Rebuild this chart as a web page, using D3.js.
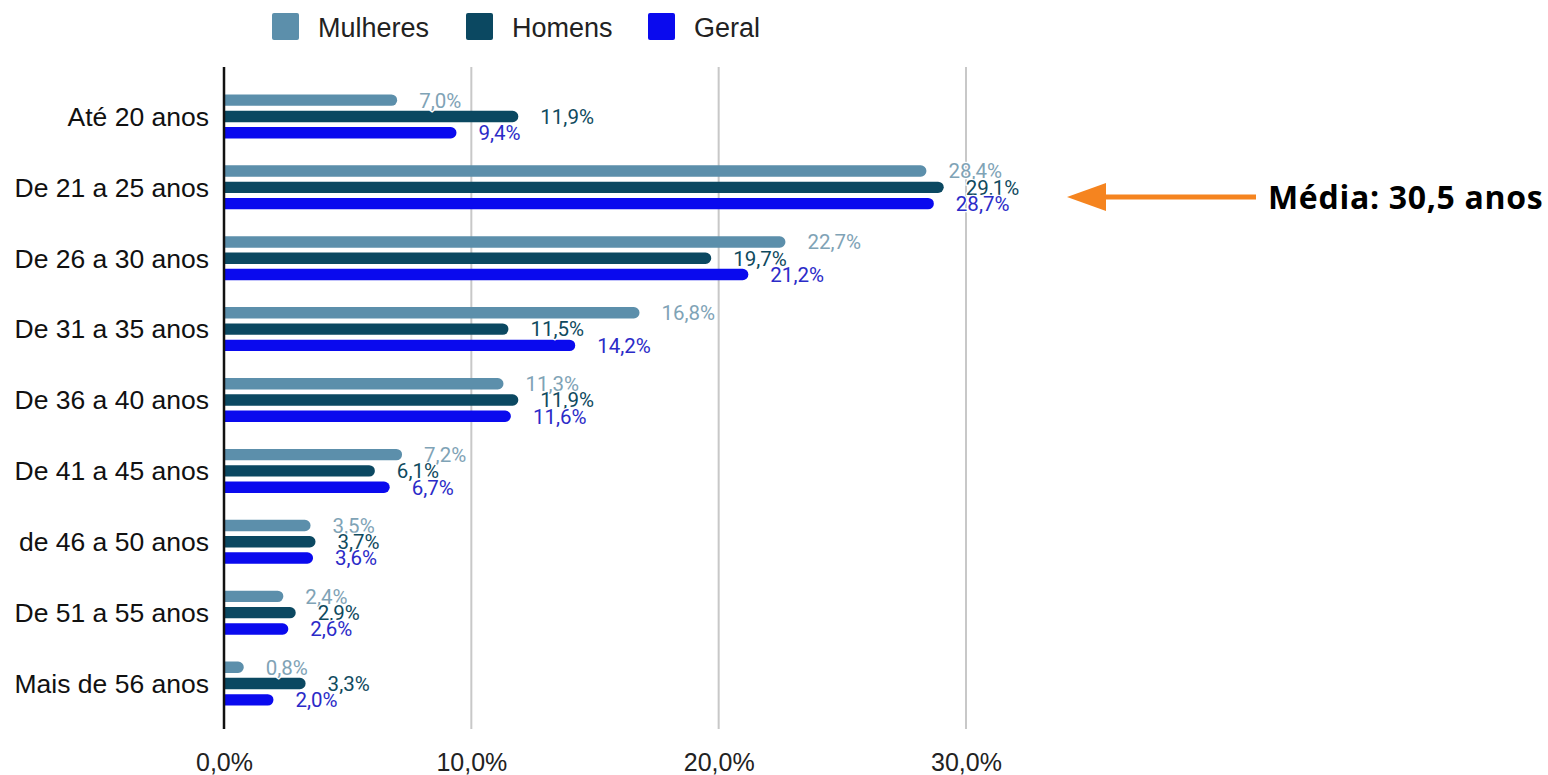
<!DOCTYPE html>
<html>
<head>
<meta charset="utf-8">
<script src="https://cdn.jsdelivr.net/npm/d3@7"></script>
<style>
  html, body { margin: 0; padding: 0; background: #fff; }
  svg { display: block; }
</style>
</head>
<body>
<svg id="chart" width="1548" height="775"></svg>
<script>
// Faixa etária por sexo (% do total)
const categories = [
  "Até 20 anos", "De 21 a 25 anos", "De 26 a 30 anos", "De 31 a 35 anos",
  "De 36 a 40 anos", "De 41 a 45 anos", "de 46 a 50 anos", "De 51 a 55 anos",
  "Mais de 56 anos"
];
const seriesNames = ["Mulheres", "Homens", "Geral"];
const mulheres = [7.0, 28.4, 22.7, 16.8, 11.3, 7.2, 3.5, 2.4, 0.8];
const homens   = [11.9, 29.1, 19.7, 11.5, 11.9, 6.1, 3.7, 2.9, 3.3];
const geral    = [9.4, 28.7, 21.2, 14.2, 11.6, 6.7, 3.6, 2.6, 2.0];
const xTicks = [0, 10, 20, 30];
const annotation = "Média: 30,5 anos";

const seriesValues = [mulheres, homens, geral];
const barColors = ["#5c8fab", "#0b4861", "#0a0aee"];
const labelColors = ["#7fa3b6", "#0f4a5e", "#2b2bc8"];

const fmt = v => d3.format(".1f")(v).replace(".", ",") + "%";

const svg = d3.select("#chart");

const x = d3.scaleLinear().domain([0, 30]).range([224, 966]);
const y = d3.scaleBand().domain(categories).range([81, 719]).padding(0);
const sub = d3.scaleBand().domain(seriesNames).range([-22, 22]).paddingInner(0.3).paddingOuter(0);

const axisTop = 67, axisBottom = 729;

// vertical gridlines
svg.append("g").selectAll("line")
  .data(xTicks.filter(t => t > 0))
  .join("line")
  .attr("x1", d => x(d)).attr("x2", d => x(d))
  .attr("y1", axisTop).attr("y2", axisBottom)
  .attr("stroke", "#c8c8c8").attr("stroke-width", 2);

// bottom tick labels
const xAxis = d3.axisBottom(x).tickValues(xTicks).tickSize(0).tickPadding(0).tickFormat(fmt);
const gx = svg.append("g").attr("transform", `translate(0, 771)`).call(xAxis);
gx.select(".domain").remove();
gx.selectAll("text")
  .attr("dy", 0)
  .attr("font-family", "'Liberation Sans', Arial, sans-serif")
  .attr("font-size", 25).attr("fill", "#222");

// category labels
const yAxis = d3.axisLeft(y).tickSize(0).tickPadding(0);
const gy = svg.append("g").attr("transform", `translate(209, 0)`).call(yAxis);
gy.select(".domain").remove();
gy.selectAll("text")
  .attr("dy", "0.35em")
  .attr("font-family", "'Liberation Sans', Arial, sans-serif")
  .attr("font-size", 26.5).attr("fill", "#111");

// bars with rounded right ends
const barH = sub.bandwidth();
const r = barH / 2;
const barPath = (x0, x1, yTop) => {
  const w = Math.max(x1 - x0, r);
  return `M${x0},${yTop}H${x0 + w - r}A${r},${r} 0 0 1 ${x0 + w - r},${yTop + barH}H${x0}Z`;
};

seriesNames.forEach((name, si) => {
  const vals = seriesValues[si];
  const g = svg.append("g");
  g.selectAll("path")
    .data(vals)
    .join("path")
    .attr("d", (v, i) => {
      const cy = y(categories[i]) + y.bandwidth() / 2;
      return barPath(x(0), x(v), cy + sub(name));
    })
    .attr("fill", barColors[si]);
});

// value labels
seriesNames.forEach((name, si) => {
  const vals = seriesValues[si];
  svg.append("g").selectAll("text")
    .data(vals)
    .join("text")
    .attr("x", v => x(v) + 22)
    .attr("y", (v, i) => y(categories[i]) + y.bandwidth() / 2 + sub(name) + barH / 2)
    .attr("dy", "0.36em")
    .attr("font-family", "Roboto, 'Liberation Sans', sans-serif")
    .attr("font-size", 20.5)
    .attr("fill", labelColors[si])
    .attr("stroke", "#fff").attr("stroke-width", 2.5)
    .attr("paint-order", "stroke")
    .text(v => fmt(v));
});

// zero axis line
svg.append("line")
  .attr("x1", x(0)).attr("x2", x(0))
  .attr("y1", axisTop).attr("y2", axisBottom)
  .attr("stroke", "#111").attr("stroke-width", 2.5);

// legend
const legend = svg.append("g");
const legendX = [272, 466, 648];
seriesNames.forEach((name, si) => {
  legend.append("rect")
    .attr("x", legendX[si]).attr("y", 13)
    .attr("width", 27).attr("height", 27).attr("rx", 2)
    .attr("fill", barColors[si]);
  legend.append("text")
    .attr("x", legendX[si] + 46).attr("y", 27)
    .attr("dy", "0.36em")
    .attr("font-family", "'Liberation Sans', Arial, sans-serif")
    .attr("font-size", 27).attr("fill", "#222")
    .text(name);
});

// mean age annotation
const ann = svg.append("g");
ann.append("line")
  .attr("x1", 1100).attr("x2", 1256)
  .attr("y1", 197).attr("y2", 197)
  .attr("stroke", "#f5841f").attr("stroke-width", 5);
ann.append("path")
  .attr("d", "M1067,197L1106,183L1106,211Z")
  .attr("fill", "#f5841f");
ann.append("text")
  .attr("x", 1268).attr("y", 197)
  .attr("dy", "0.36em")
  .attr("font-family", "'Open Sans', Lato, sans-serif")
  .attr("font-weight", 700)
  .attr("font-size", 32)
  .attr("letter-spacing", 0.7)
  .attr("fill", "#000")
  .text(annotation);
</script>
</body>
</html>
